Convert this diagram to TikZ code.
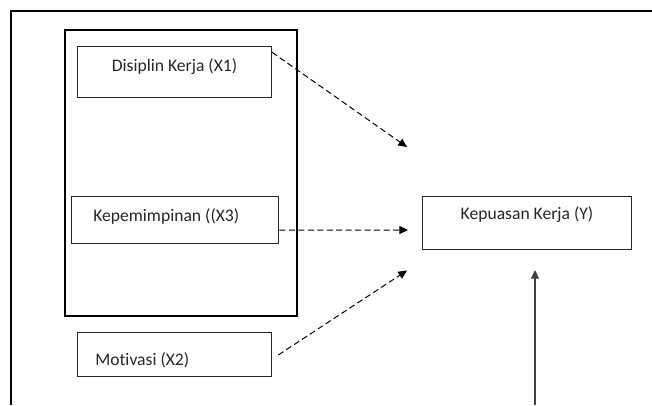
\documentclass[tikz,border=0pt]{standalone}
\usepackage{fontspec}
\setmainfont[Ligatures={NoCommon}]{Carlito}
\usetikzlibrary{arrows.meta,calc}
\begin{document}
\begin{tikzpicture}[x=0.75pt,y=-0.75pt,
  box/.style={draw=black!85, line width=0.8pt, rectangle, inner sep=0pt},
  lbl/.style={font=\fontsize{13.2}{15}\selectfont, text=black!85, inner sep=0pt},
  dasharrow/.style={draw=black, line width=0.75pt, dash pattern=on 4.5pt off 2.6pt, -{Triangle[length=6.5pt,width=6pt]}},
  solidarrow/.style={draw=black!75, line width=0.8pt, -{Triangle[length=6.5pt,width=6pt]}}]
\useasboundingbox (0,0) rectangle (652,405);
% outer frame (top and left)
\draw[line width=1.6pt] (652,11) -- (11,11) -- (11,405);
% big group box
\node[draw, line width=1.6pt, rectangle, inner sep=0pt, minimum width=232*0.75pt, minimum height=286*0.75pt] (grp) at (181,173) {};
% variable boxes
\node[box, minimum width=193.5*0.75pt, minimum height=50.5*0.75pt] (x1) at (174.7,72) {};
\node[lbl] (tx1) at (174.5,66.5) {Disiplin Kerja (X1)};
\node[box, minimum width=207*0.75pt, minimum height=47*0.75pt] (x3) at (175.4,219.7) {};
\node[lbl, anchor=west] (tx3) at (93,216) {Kepemimpinan ((X3)};
\node[box, minimum width=194*0.75pt, minimum height=43.5*0.75pt] (x2) at (174.7,354.4) {};
\node[lbl, anchor=west] (tx2) at (95,360) {Motivasi (X2)};
\node[box, minimum width=209*0.75pt, minimum height=52.5*0.75pt] (y) at (527,223) {};
\node[lbl] (ty) at (527,215) {Kepuasan Kerja (Y)};
% arrow endpoints
\coordinate (s1) at ($(x1.north east)+(0,6)$);
\coordinate (e1) at (407,147);
\coordinate (s3) at ($(x3.east)+(0,10.3)$);
\coordinate (e3) at (408,230);
\coordinate (s2) at ($(x2.east)+(6,0.6)$);
\coordinate (e2) at (407,270.5);
\coordinate (s4) at (535,405);
\coordinate (e4) at (535,270);
\draw[dasharrow] (s1) -- (e1);
\draw[dasharrow] (s3) -- (e3);
\draw[dasharrow] (s2) -- (e2);
\draw[solidarrow] (s4) -- (e4);
\end{tikzpicture}
\end{document}
